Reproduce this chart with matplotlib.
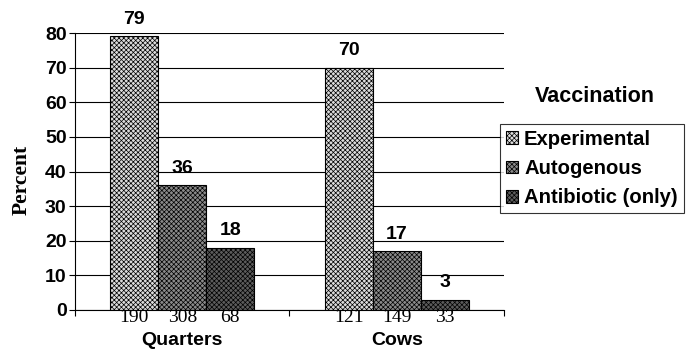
import numpy as np
import matplotlib.pyplot as plt
from matplotlib.transforms import blended_transform_factory

# percent of quarters / cows per vaccination group
groups = ['Quarters', 'Cows']
treatments = ['Experimental', 'Autogenous', 'Antibiotic (only)']
experimental = [79, 70]
autogenous = [36, 17]
antibiotic = [18, 3]
# number of quarters / cows in each bar
n_experimental = [190, 121]
n_autogenous = [308, 149]
n_antibiotic = [68, 33]

plt.rcParams['hatch.linewidth'] = 0.5
sans = 'Liberation Sans'
serif = 'Liberation Serif'

fig = plt.figure(figsize=(6.98, 3.55), dpi=100)
ax = fig.add_axes([0.1074, 0.1268, 0.6146, 0.7802])

x = np.arange(len(groups))
w = 0.224
series = [experimental, autogenous, antibiotic]
counts = [n_experimental, n_autogenous, n_antibiotic]
faces = ['#dcdcdc', '#8a8a8a', '#5c5c5c']
hatches = ['xxxxxxx', 'xxxxxxx', 'xxxxxxx']

centers = []
labels = []
for i, (vals, face, hatch) in enumerate(zip(series, faces, hatches)):
    pos = x + (i - 1) * w
    bars = ax.bar(pos, vals, w, color=face, edgecolor='black', hatch=hatch,
                  linewidth=0.8, label=treatments[i], zorder=2)
    for b, v in zip(bars, vals):
        ax.annotate(str(v), (b.get_x() + b.get_width() / 2, v),
                    xytext=(0, 6), textcoords='offset points',
                    ha='center', va='bottom', fontsize=14,
                    fontweight='bold', family=sans)
    centers.extend(pos)
    labels.extend(str(c) for c in counts[i])

ax.set_xlim(-0.5, 1.5)
ax.set_ylim(0, 80)
ax.set_yticks(range(0, 81, 10))
ax.yaxis.grid(True, color='black', linewidth=0.8)
ax.set_axisbelow(True)

# bar counts as tick labels, group boundaries as minor ticks
ax.set_xticks(centers)
ax.set_xticklabels(labels, family=serif, fontsize=14)
ax.tick_params(axis='x', which='major', length=0, pad=-1)
ax.set_xticks([-0.5, 0.5, 1.5], minor=True)
ax.tick_params(axis='x', which='minor', length=4, direction='out', width=0.8)
ax.tick_params(axis='y', length=4, direction='out', width=0.8, pad=2)
for t in ax.get_yticklabels():
    t.set_family(sans)
    t.set_fontweight('bold')
    t.set_fontsize(14)

trans = blended_transform_factory(ax.transData, ax.transAxes)
for xi, g in zip(x, groups):
    ax.text(xi, -0.11, g, transform=trans, ha='center', va='center',
            fontsize=14, fontweight='bold', family=sans)

ax.set_ylabel('Percent', family=serif, fontsize=15.5, fontweight='bold')
ax.yaxis.set_label_coords(-0.1, 0.47)

for s in ['top', 'right']:
    ax.spines[s].set_visible(False)
ax.spines['left'].set_linewidth(0.8)
ax.spines['bottom'].set_linewidth(0.8)

leg = ax.legend(loc='upper left', bbox_to_anchor=(0.716, 0.651),
                bbox_transform=fig.transFigure, frameon=True, fancybox=False,
                edgecolor='black', handlelength=0.6, handleheight=0.6,
                handletextpad=0.3, borderpad=0.3, labelspacing=0.5,
                borderaxespad=0,
                prop={'family': sans, 'weight': 'bold', 'size': 14.6})
leg.get_frame().set_linewidth(0.8)
fig.text(0.852, 0.727, 'Vaccination', ha='center', va='center',
         fontsize=15.5, fontweight='bold', family=sans)

fig.savefig('out.png', dpi=100)
